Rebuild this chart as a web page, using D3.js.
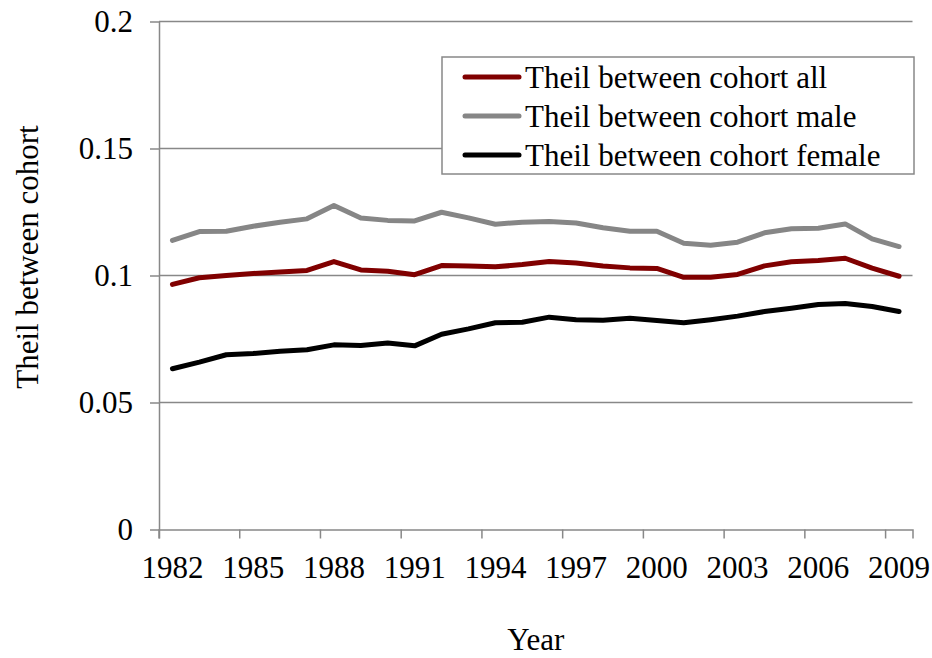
<!DOCTYPE html>
<html lang="en">
<head>
<meta charset="utf-8">
<title>Theil between cohort</title>
<script src="https://d3js.org/d3.v7.min.js"></script>
<style>
  body { margin: 0; background: #fff; }
  svg { display: block; }
  svg text { font-family: "Liberation Serif", "Times New Roman", Times, serif !important; fill: #000; }
  .axis text { font-size: 31px; }
  .axis path, .axis line { stroke: #888; stroke-width: 1.5px; }
  .title { font-size: 31px; }
  .legend text { font-size: 31px; }
</style>
</head>
<body>
<svg width="932" height="658"></svg>
<script>
// data
const years = d3.range(1982, 2010);
const tickYears = [1982, 1985, 1988, 1991, 1994, 1997, 2000, 2003, 2006, 2009];
const yTicks = [0, 0.05, 0.1, 0.15, 0.2];

const theilAll = [0.0965, 0.0991, 0.1000, 0.1008, 0.1014, 0.1020, 0.1055, 0.1022, 0.1017, 0.1003,
                  0.1039, 0.1037, 0.1034, 0.1043, 0.1055, 0.1049, 0.1037, 0.1030, 0.1028, 0.0993,
                  0.0993, 0.1004, 0.1038, 0.1054, 0.1059, 0.1068, 0.1029, 0.0997];
const theilMale = [0.1138, 0.1173, 0.1174, 0.1194, 0.1210, 0.1223, 0.1276, 0.1226, 0.1217, 0.1215,
                   0.1249, 0.1227, 0.1202, 0.1210, 0.1213, 0.1207, 0.1188, 0.1174, 0.1174, 0.1127,
                   0.1119, 0.1131, 0.1168, 0.1184, 0.1186, 0.1203, 0.1144, 0.1114];
const theilFemale = [0.0633, 0.0659, 0.0688, 0.0693, 0.0702, 0.0708, 0.0727, 0.0724, 0.0734, 0.0723,
                     0.0769, 0.0790, 0.0814, 0.0816, 0.0836, 0.0826, 0.0824, 0.0832, 0.0823, 0.0814,
                     0.0826, 0.0840, 0.0858, 0.0871, 0.0886, 0.0890, 0.0878, 0.0858];

const seriesNames = ["Theil between cohort all", "Theil between cohort male", "Theil between cohort female"];
const seriesColors = ["#800000", "#868686", "#000000"];
const series = [theilAll, theilMale, theilFemale];

const svg = d3.select("svg");
const plotLeft = 159, plotRight = 912.5, plotTop = 21.5, plotBottom = 529.5;

const x = d3.scaleBand().domain(years).range([plotLeft, plotRight]).padding(0);
const y = d3.scaleLinear().domain([0, 0.2]).range([plotBottom, plotTop]);

// horizontal gridlines
svg.append("g")
   .selectAll("line")
   .data(yTicks.filter(d => d > 0))
   .join("line")
   .attr("x1", plotLeft).attr("x2", plotRight)
   .attr("y1", d => y(d)).attr("y2", d => y(d))
   .attr("stroke", "#888")
   .attr("stroke-width", 1.5);

// y axis
const yAxis = d3.axisLeft(y).tickValues(yTicks).tickFormat(d => String(d))
                .tickSize(9).tickSizeOuter(0).tickPadding(17);
svg.append("g")
   .attr("class", "axis")
   .attr("transform", "translate(" + plotLeft + ",0)")
   .call(yAxis);

// x axis, ticks sit on category edges
const xAxis = d3.axisBottom(x).tickValues(tickYears).tickSizeOuter(0).tickSize(9).tickPadding(17);
const gx = svg.append("g")
   .attr("class", "axis")
   .attr("transform", "translate(0," + plotBottom + ")")
   .call(xAxis);
gx.selectAll(".tick line")
  .attr("x1", -x.bandwidth() / 2)
  .attr("x2", -x.bandwidth() / 2);

// lines
const line = d3.line()
  .x((d, i) => x(years[i]) + x.bandwidth() / 2)
  .y(d => y(d));

svg.append("g")
   .selectAll("path")
   .data(series)
   .join("path")
   .attr("d", d => line(d))
   .attr("fill", "none")
   .attr("stroke", (d, i) => seriesColors[i])
   .attr("stroke-width", 5)
   .attr("stroke-linejoin", "round")
   .attr("stroke-linecap", "round");

// axis titles
svg.append("text")
   .attr("class", "title")
   .attr("x", (plotLeft + plotRight) / 2)
   .attr("y", 650)
   .attr("text-anchor", "middle")
   .text("Year");

svg.append("text")
   .attr("class", "title")
   .attr("transform", "translate(38,257) rotate(-90)")
   .attr("text-anchor", "middle")
   .text("Theil between cohort");

// legend
const legend = svg.append("g").attr("class", "legend");
legend.append("rect")
      .attr("x", 442).attr("y", 57)
      .attr("width", 472).attr("height", 117)
      .attr("fill", "#fff")
      .attr("stroke", "#888")
      .attr("stroke-width", 1.5);

const items = legend.selectAll("g.item")
  .data(seriesNames)
  .join("g")
  .attr("class", "item")
  .attr("transform", (d, i) => "translate(465," + (77 + i * 39) + ")");

items.append("line")
     .attr("x1", 0).attr("x2", 54)
     .attr("stroke", (d, i) => seriesColors[i])
     .attr("stroke-width", 5)
     .attr("stroke-linecap", "round");

items.append("text")
     .attr("x", 60)
     .attr("dy", "0.35em")
     .text(d => d);
</script>
</body>
</html>
